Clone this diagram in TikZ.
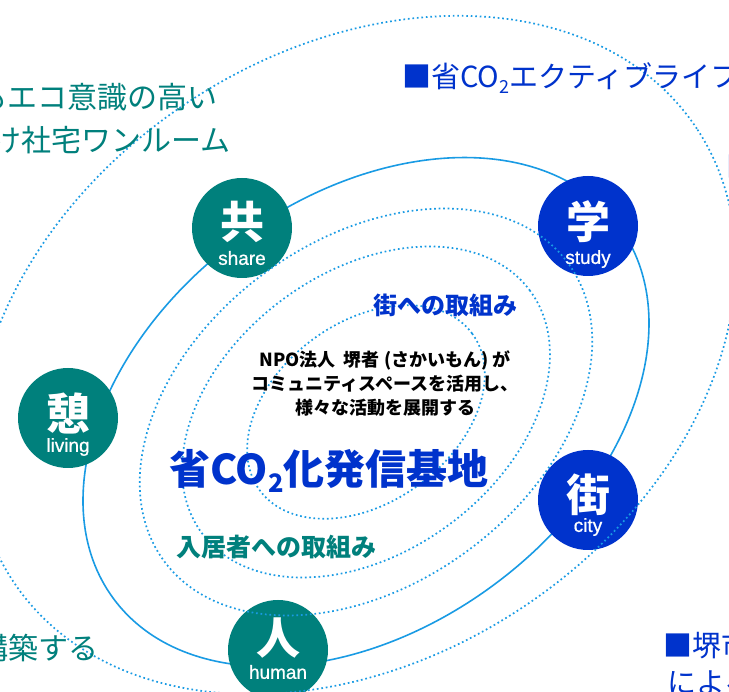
\documentclass[tikz,border=0pt]{standalone}
\usepackage{fontspec}
\setmainfont{Noto Sans CJK JP}
\newfontfamily\lat{Liberation Sans}[FakeBold=0.8]
\definecolor{lineblue}{RGB}{25,155,228}
\definecolor{teal}{RGB}{0,128,124}
\definecolor{dblue}{RGB}{0,51,204}
\newcommand\sbtwo{\raisebox{-0.2em}{\scalebox{0.62}{2}}}
\tikzset{
  dotline/.style={lineblue, line width=1.7pt, dash pattern=on 1.7pt off 2.8pt},
  solidline/.style={lineblue, line width=1.6pt},
  badge/.style={circle, minimum size=100pt, inner sep=0pt},
  kanji/.style={text=white, font=\fontsize{44}{44}\selectfont\bfseries, inner sep=0pt},
  eng/.style={text=white, font=\lat\fontsize{19}{19}\selectfont, inner sep=0pt},
  sidetext/.style={font=\fontsize{30}{30}\selectfont, inner sep=0pt},
  bluetext/.style={font=\fontsize{29}{29}\selectfont, text=dblue, inner sep=0pt, anchor=west},
  label/.style={font=\fontsize{24}{24}\selectfont\bfseries, inner sep=0pt},
}
\begin{document}
\begin{tikzpicture}[x=1pt,y=1pt]
\useasboundingbox (0,0) rectangle (729,-692);
\clip (0,0) rectangle (729,-692);
\fill[white] (0,0) rectangle (729,-692);
% solid ellipse
\coordinate (cs) at (366,-412);
\draw[solidline, rotate around={36.5:(cs)}] (cs) ellipse [x radius=314pt, y radius=215pt];
% badges
\node[badge, fill=teal] (kyo) at (242,-228) {};
\node[badge, fill=dblue] (gaku) at (588,-226) {};
\node[badge, fill=teal] (ikoi) at (68,-418) {};
\node[badge, fill=dblue] (machi) at (588,-500) {};
\node[badge, fill=teal] (hito) at (278,-650) {};
% dotted ellipses
\draw[dotline, rotate around={36.5:(cs)}] (cs) ellipse [x radius=132pt, y radius=90pt];
\draw[dotline, rotate around={36.5:(cs)}] (cs) ellipse [x radius=204pt, y radius=140pt];
\draw[dotline, rotate around={36.5:(cs)}] (cs) ellipse [x radius=251pt, y radius=172pt];
\coordinate (ce) at (355,-355);
\draw[dotline, rotate around={33.5:(ce)}] (ce) ellipse [x radius=410pt, y radius=303pt];
% badge texts
\node[kanji] (kyoK) at ([yshift=6pt]kyo.center) {共};
\node[eng] (kyoE) at ([yshift=-30pt]kyo.center) {share};
\node[kanji] (gakuK) at ([yshift=4pt]gaku.center) {学};
\node[eng] (gakuE) at ([yshift=-33pt]gaku.center) {study};
\node[kanji] (ikoiK) at ([yshift=5pt]ikoi.center) {憩};
\node[eng] (ikoiE) at ([yshift=-29pt]ikoi.center) {living};
\node[kanji] (machiK) at ([yshift=5pt]machi.center) {街};
\node[eng] (machiE) at ([yshift=-27pt]machi.center) {city};
\node[kanji] (hitoK) at ([yshift=12pt]hito.center) {人};
\node[eng] (hitoE) at ([yshift=-22pt]hito.center) {human};
% center texts
\node[label, text=dblue] (machitori) at (445,-305) {街への取組み};
\node[font=\fontsize{18}{24}\selectfont\bfseries, align=center, inner sep=0pt] (npo) at (385,-384)
  {NPO法人\ \ 堺者 (さかいもん) が\\コミュニティスペースを活用し、\\様々な活動を展開する};
\node[font=\fontsize{41}{41}\selectfont\bfseries, text=dblue, inner sep=0pt] (kichi) at (329,-471) {省CO\sbtwo 化発信基地};
\node[label, font=\fontsize{25}{25}\selectfont\bfseries, text=teal] (nyukyo) at (276,-547) {入居者への取組み};
% side texts
\node[sidetext, text=teal, anchor=east] (tl1) at (218,-97) {入居者もエコ意識の高い};
\node[sidetext, text=teal, anchor=east] (tl2) at (231,-140) {向け社宅ワンルーム};
\node[bluetext] (tr1) at (402,-78) {■省CO\sbtwo エクティブライフスタイル};
\node[bluetext] (rm1) at (726,-166) {■省};
\node[bluetext] (rm2) at (727,-200) {に};
\node[sidetext, text=teal, anchor=east] (lm) at (4,-520) {る};
\node[sidetext, text=teal, anchor=east] (bl) at (99,-648) {を構築する};
\node[bluetext] (br1) at (663,-645) {■堺市};
\node[bluetext] (br2) at (667,-683) {による};
\end{tikzpicture}
\end{document}
